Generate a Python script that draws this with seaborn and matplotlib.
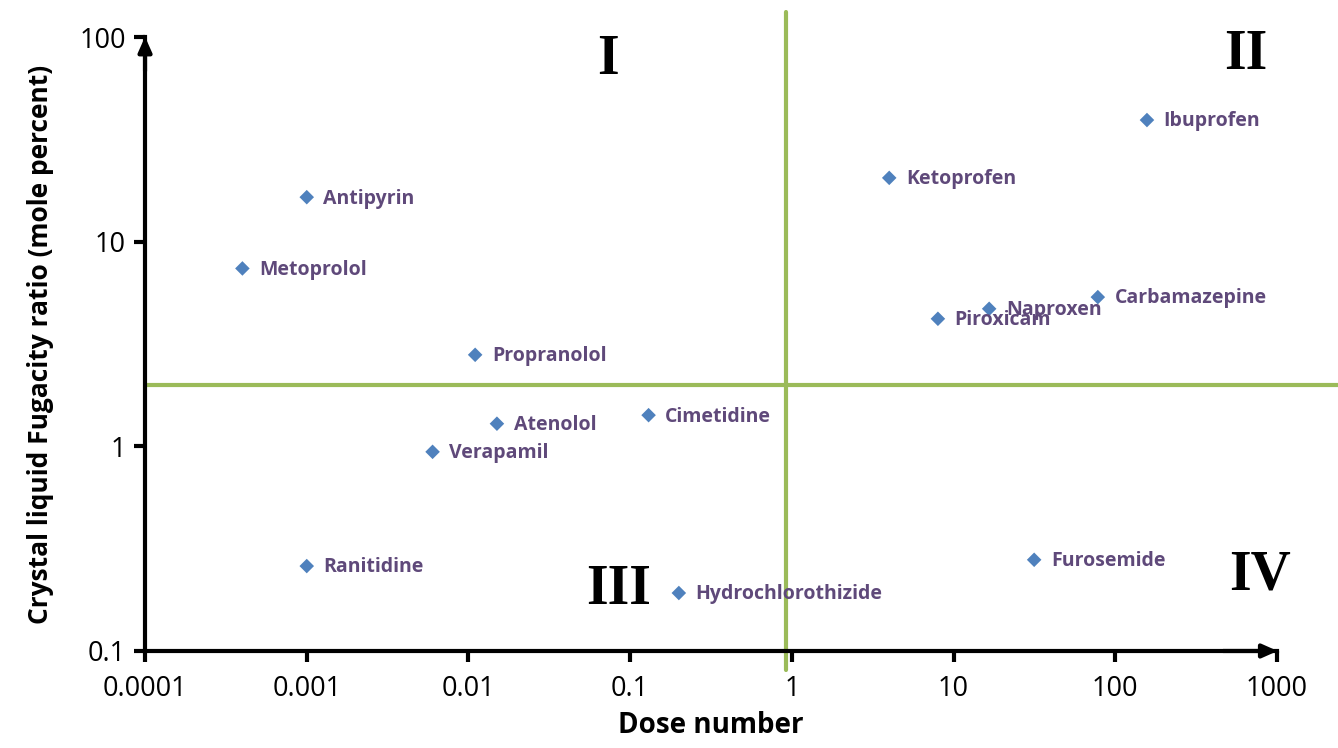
import matplotlib
matplotlib.use("Agg")
import matplotlib.pyplot as plt
import seaborn as sns
import pandas as pd

# drugs: dose number vs crystal/liquid fugacity ratio
drugs = ["Antipyrin", "Metoprolol", "Propranolol", "Atenolol", "Verapamil",
         "Cimetidine", "Ranitidine", "Hydrochlorothizide", "Ketoprofen",
         "Ibuprofen", "Piroxicam", "Naproxen", "Carbamazepine", "Furosemide"]
dose_number = [0.001, 0.0004, 0.011, 0.015, 0.006,
               0.13, 0.001, 0.2, 4.0,
               157, 8.0, 16.6, 78, 31.5]
fugacity = [16.5, 7.4, 2.8, 1.29, 0.94,
            1.42, 0.26, 0.192, 20.5,
            39.3, 4.2, 4.7, 5.36, 0.279]

x_split = 0.92
y_split = 2.0

df = pd.DataFrame({"drug": drugs, "dose": dose_number, "fug": fugacity})

sns.set_style("white")
plt.rcParams['font.family'] = ['Open Sans', 'DejaVu Sans']
plt.rcParams['text.color'] = 'black'
plt.rcParams['axes.labelcolor'] = 'black'
plt.rcParams['xtick.color'] = 'black'
plt.rcParams['ytick.color'] = 'black'
plt.rcParams['xtick.bottom'] = True
plt.rcParams['ytick.left'] = True

fig = plt.figure(figsize=(13.38, 7.48), dpi=100)
ax = fig.add_axes([0.1084, 0.1297, 0.846, 0.8208])

ax.set_xscale("log")
ax.set_yscale("log")
ax.set_xlim(0.0001, 1000)
ax.set_ylim(0.1, 100)

# quadrant divider lines (run past the axes)
ax.plot([x_split, x_split], [0.081, 132], color='#9BBB59', lw=3, clip_on=False, zorder=1)
ax.plot([0.0001, 2400], [y_split, y_split], color='#9BBB59', lw=3, clip_on=False, zorder=1)

sns.scatterplot(data=df, x="dose", y="fug", marker="D", s=55, color='#4F81BD',
                edgecolor='none', ax=ax, zorder=3)

for name, xv, yv in zip(drugs, dose_number, fugacity):
    ax.annotate(name, (xv, yv), xytext=(12, -1), textcoords='offset points',
                va='center', ha='left', fontsize=14, fontweight='bold',
                color='#5F497A', zorder=4)

# quadrant labels
quad = dict(fontsize=40, fontweight='bold', family='Liberation Serif', color='black',
            transform=ax.transAxes, ha='center', va='center')
ax.text(0.409, 0.962, "I", **quad)
ax.text(0.972, 0.970, "II", **quad)
ax.text(0.418, 0.100, "III", **quad)
ax.text(0.985, 0.123, "IV", **quad)

ax.set_xticks([0.0001, 0.001, 0.01, 0.1, 1, 10, 100, 1000])
ax.set_xticklabels(["0.0001", "0.001", "0.01", "0.1", "1", "10", "100", "1000"])
ax.set_yticks([0.1, 1, 10, 100])
ax.set_yticklabels(["0.1", "1", "10", "100"])
ax.minorticks_off()
ax.tick_params(axis='both', which='major', direction='out', length=8, width=3,
               labelsize=19.5, color='black', pad=6, bottom=True, left=True)
ax.tick_params(axis='x', pad=9)

for s in ['top', 'right']:
    ax.spines[s].set_visible(False)
for s in ['left', 'bottom']:
    ax.spines[s].set_linewidth(3)
    ax.spines[s].set_color('black')

# arrow heads on axes
ax.annotate("", xy=(0, 1.005), xytext=(0, 0.94), xycoords='axes fraction',
            arrowprops=dict(arrowstyle='-|>,head_length=0.9,head_width=0.4',
                            color='black', lw=3), annotation_clip=False)
ax.annotate("", xy=(1.003, 0), xytext=(0.95, 0), xycoords='axes fraction',
            arrowprops=dict(arrowstyle='-|>,head_length=0.9,head_width=0.4',
                            color='black', lw=3), annotation_clip=False)

ax.set_xlabel("Dose number", fontsize=20, fontweight='bold', labelpad=6)
ax.set_ylabel("Crystal liquid Fugacity ratio (mole percent)", fontsize=19,
              fontweight='bold', labelpad=18)

fig.savefig("out.png", dpi=100, facecolor='white')
